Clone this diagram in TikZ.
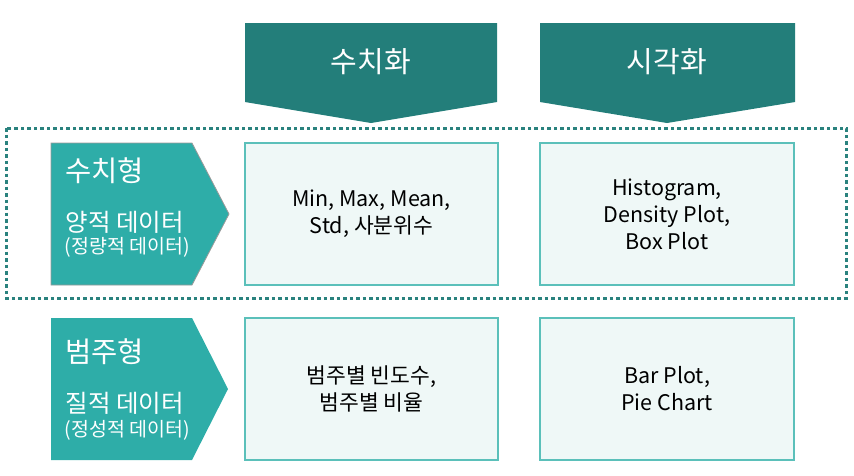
\documentclass[tikz,border=0pt]{standalone}
\usepackage{fontspec}
\setmainfont{Noto Sans CJK KR}
\definecolor{hdark}{HTML}{237E7A}
\definecolor{hmid}{HTML}{2EADA8}
\definecolor{boxfill}{HTML}{EFF8F7}
\definecolor{boxline}{HTML}{5BC0BA}
\definecolor{dotc}{HTML}{2A827E}
\tikzset{
  header/.style={fill=hdark, draw=none},
  catshape/.style={fill=hmid},
  cell/.style={draw=boxline, fill=boxfill, line width=1.3pt},
  celltext/.style={font=\fontsize{21.5}{27}\selectfont, align=center, text=black},
  htext/.style={font=\fontsize{29}{34}\selectfont, text=white},
  cattitle/.style={font=\fontsize{28.5}{32}\selectfont, text=white, anchor=west},
  catsub/.style={font=\fontsize{24.5}{28}\selectfont, text=white, anchor=west},
  catsmall/.style={font=\fontsize{19.5}{22}\selectfont, text=white, anchor=west},
}
\begin{document}
\begin{tikzpicture}[x=1pt,y=-1pt]
\useasboundingbox (0,0) rectangle (854,475);
% headers
\fill[header] (245,23) -- (497,23) -- (497,102) -- (371,123) -- (245,102) -- cycle;
\fill[header] (540,23) -- (795,23) -- (795,102) -- (667,123) -- (540,102) -- cycle;
\node[htext] (h1) at (371,62) {수치화};
\node[htext] (h2) at (667,62) {시각화};
% dotted frame
\draw[dotc, line width=3pt, dash pattern=on 3.5pt off 3pt] (6,128) rectangle (846,298);
% category shapes
\filldraw[catshape, draw=gray!80, line width=0.8pt] (51,143) -- (192,143) -- (229,214) -- (192,285) -- (51,285) -- cycle;
\fill[catshape] (51,318) -- (192,318) -- (228,389) -- (192,460) -- (51,460) -- cycle;
\node[cattitle] (c1a) at (62,171) {수치형};
\node[catsub] (c1b) at (62,222) {양적 데이터};
\node[catsmall] (c1c) at (61,247) {(정량적 데이터)};
\node[cattitle] (c2a) at (62,352) {범주형};
\node[catsub] (c2b) at (62,403) {질적 데이터};
\node[catsmall] (c2c) at (61,430) {(정성적 데이터)};
% cells
\draw[cell] (245,143) rectangle (498,285);
\draw[cell] (540,143) rectangle (794,285);
\draw[cell] (245,318) rectangle (498,460);
\draw[cell] (540,318) rectangle (794,460);
\node[celltext] (t11) at (371.5,214) {Min, Max, Mean,\\Std, 사분위수};
\node[celltext] (t12) at (667,214) {Histogram,\\Density Plot,\\Box Plot};
\node[celltext] (t21) at (371.5,389) {범주별 빈도수,\\범주별 비율};
\node[celltext] (t22) at (667,389) {Bar Plot,\\Pie Chart};
\end{tikzpicture}
\end{document}
